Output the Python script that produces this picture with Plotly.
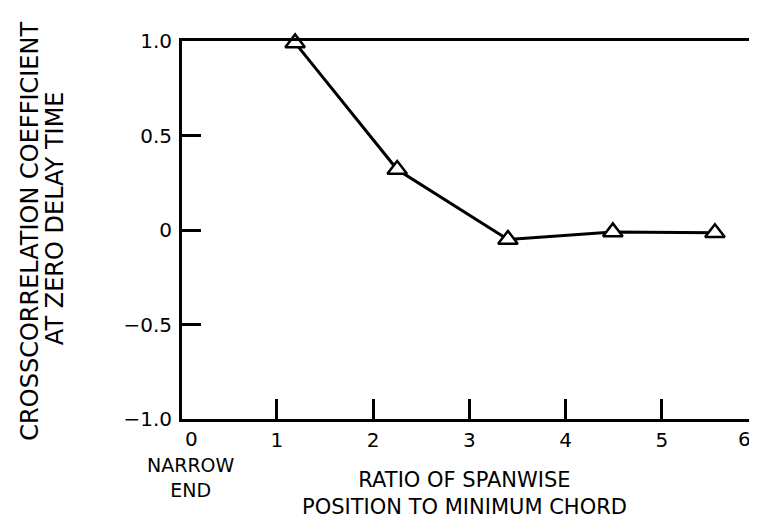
import plotly.graph_objects as go

# Data
ratio = [1.19, 2.25, 3.40, 4.49, 5.55]
crosscorr = [0.99, 0.32, -0.05, -0.01, -0.015]

x_tick_vals = [1, 2, 3, 4, 5]
x_tick_text = ["1", "2", "3", "4", "5"]
x_edge_vals = [0.11, 5.86]
x_edge_text = ["0", "6"]
y_tick_vals = [1.0, 0.5, 0.0, -0.5, -1.0]
y_tick_text = ["1.0", "0.5", "0", "\u22120.5", "\u22121.0"]

FONT = "DejaVu Sans"

fig = go.Figure()
fig.add_trace(go.Scatter(
    x=ratio, y=crosscorr, mode="lines+markers",
    line=dict(color="black", width=3),
    marker=dict(symbol="triangle-up", size=17, color="white",
                line=dict(color="black", width=2.5)),
    cliponaxis=False, showlegend=False,
))

fig.update_layout(
    width=757, height=518,
    margin=dict(l=174, r=5, t=33, b=107),
    paper_bgcolor="white", plot_bgcolor="white",
    font=dict(family=FONT, color="black", size=20),
    xaxis=dict(range=[0.015, 5.987], tickvals=x_tick_vals, ticktext=x_tick_text,
               ticks="inside", ticklen=20, tickwidth=3, tickcolor="black",
               showline=True, linecolor="black", linewidth=3, mirror=True,
               showgrid=False, zeroline=False, ticklabelstandoff=1,
               tickfont=dict(family=FONT, size=20)),
    yaxis=dict(range=[-1.0, 1.0], tickvals=y_tick_vals, ticktext=y_tick_text,
               ticks="inside", ticklen=19, tickwidth=3, tickcolor="black",
               showline=True, linecolor="black", linewidth=3, mirror=True,
               showgrid=False, zeroline=False, ticklabelstandoff=3,
               tickfont=dict(family=FONT, size=20)),
)

annos = []
for v, t in zip(x_edge_vals, x_edge_text):
    annos.append(dict(x=v, y=0, xref="x", yref="paper", text=t, showarrow=False,
                      yanchor="middle", yshift=-20, font=dict(family=FONT, size=20)))
annos += [
    dict(x=0.11, y=0, xref="x", yref="paper", text="NARROW<br>END", showarrow=False,
         yanchor="top", yshift=-34, borderpad=0, font=dict(family=FONT, size=19)),
    dict(x=2.95, y=0, xref="x", yref="paper",
         text="RATIO OF SPANWISE<br>POSITION TO MINIMUM CHORD", showarrow=False,
         yanchor="bottom", yshift=-101, borderpad=0, font=dict(family=FONT, size=21)),
    dict(x=0, y=0.497, xref="paper", yref="paper", text="CROSSCORRELATION COEFFICIENT",
         showarrow=False, textangle=-90, xanchor="center", yanchor="middle", xshift=-151.5,
         font=dict(family=FONT, size=24)),
    dict(x=0, y=0.530, xref="paper", yref="paper", text="AT ZERO DELAY TIME",
         showarrow=False, textangle=-90, xanchor="center", yanchor="middle", xshift=-127.5,
         font=dict(family=FONT, size=24)),
]
fig.update_layout(annotations=annos)

fig.write_html("out.html")
